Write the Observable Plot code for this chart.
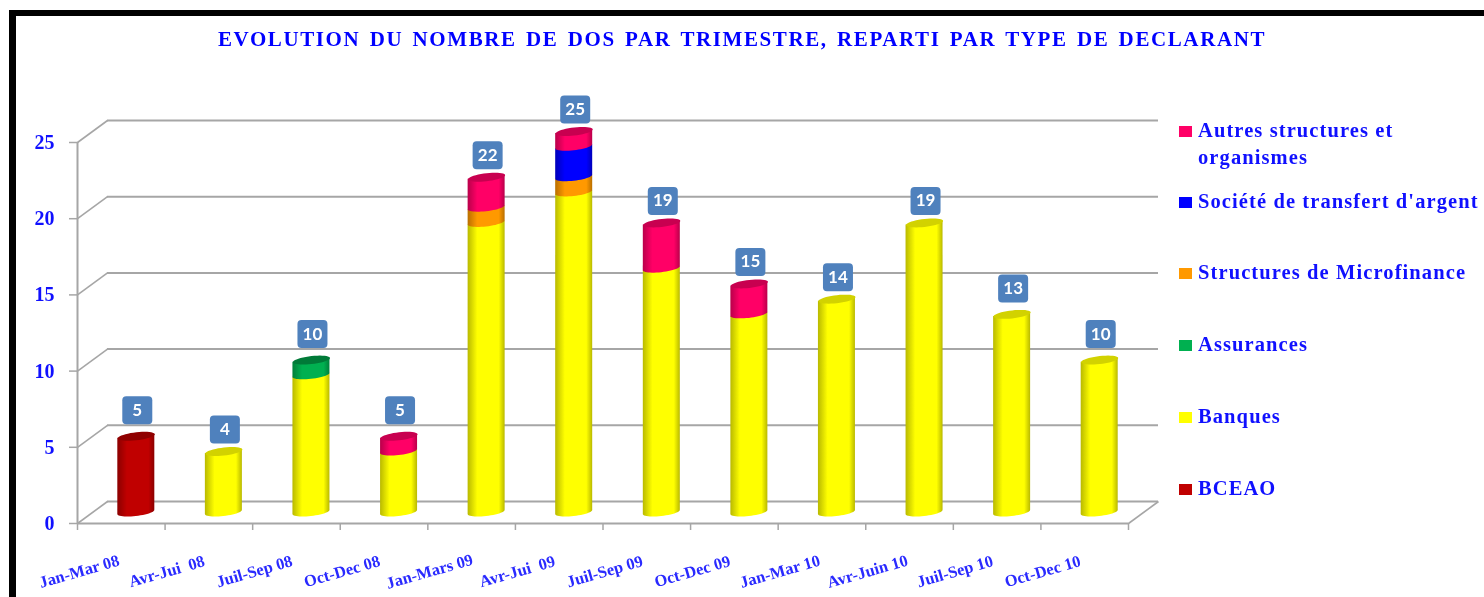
<!DOCTYPE html>
<html lang="fr">
<head>
<meta charset="utf-8">
<script src="https://cdn.jsdelivr.net/npm/d3@7"></script>
<script src="https://cdn.jsdelivr.net/npm/@observablehq/plot@0.6"></script>
<style>
  html, body { margin: 0; padding: 0; background: #fff; width: 1484px; height: 597px; overflow: hidden; }
  #frame { position: absolute; left: 9px; top: 10px; right: 0; bottom: 0; border-left: 7px solid #000; border-top: 6px solid #000; pointer-events: none; }
  #chart { position: absolute; left: 0; top: 0; filter: blur(0.45px); }
  #title { position: absolute; left: 0; width: 1484px; top: 27px; text-align: center; font: bold 21px "Liberation Serif", serif; letter-spacing: 1.6px; word-spacing: 2.5px; color: #0000ff; white-space: nowrap; filter: blur(0.4px); }
  #legend { filter: blur(0.4px); }
  .lg { position: absolute; left: 1179px; }
  .lg i { position: absolute; left: 0; width: 13px; height: 11px; }
  .lg span { position: absolute; left: 19px; top: 0; font: bold 20.5px/26px "Liberation Serif", serif; letter-spacing: 1.1px; color: #1010ff; white-space: nowrap; }
</style>
</head>
<body>
<div id="chart"></div>
<div id="title">EVOLUTION DU NOMBRE DE DOS PAR TRIMESTRE, REPARTI PAR TYPE DE DECLARANT</div>
<div id="legend"></div>
<div id="frame"></div>
<script>
const periods = ["Jan-Mar 08", "Avr-Jui  08", "Juil-Sep 08", "Oct-Dec 08", "Jan-Mars 09", "Avr-Jui  09",
                 "Juil-Sep 09", "Oct-Dec 09", "Jan-Mar 10", "Avr-Juin 10", "Juil-Sep 10", "Oct-Dec 10"];
const bceao        = [5, 0, 0, 0, 0, 0, 0, 0, 0, 0, 0, 0];
const banques      = [0, 4, 9, 4, 19, 21, 16, 13, 14, 19, 13, 10];
const assurances   = [0, 0, 1, 0, 0, 0, 0, 0, 0, 0, 0, 0];
const microfinance = [0, 0, 0, 0, 1, 1, 0, 0, 0, 0, 0, 0];
const societe      = [0, 0, 0, 0, 0, 2, 0, 0, 0, 0, 0, 0];
const autres       = [0, 0, 0, 1, 2, 1, 3, 2, 0, 0, 0, 0];
const totals       = [5, 4, 10, 5, 22, 25, 19, 15, 14, 19, 13, 10];

const seriesNames = ["BCEAO", "Banques", "Assurances", "Structures de Microfinance", "Société de transfert d'argent", "Autres structures et organismes"];
const seriesValues = [bceao, banques, assurances, microfinance, societe, autres];
const seriesColors = ["#c00000", "#ffff00", "#00b050", "#ff9900", "#0000ff", "#ff0066"];
const capColors    = ["#8f0000", "#d2d200", "#007a38", "#c87800", "#0000b8", "#c80050"];
const yTicks = [0, 5, 10, 15, 20, 25];
const raisedLabels = new Set([0, 2, 3, 10, 11]);

// long table, bottom of each stack first so upper segments paint over lower ones
const rows = [];
const tops = [];
periods.forEach((p, i) => {
  let base = 0, last = 0;
  seriesValues.forEach((vals, s) => {
    if (vals[i] > 0) {
      rows.push({slot: i, s, y1: base, y2: base + vals[i]});
      base += vals[i];
      last = s;
    }
  });
  tops.push({slot: i, total: base, s: last});
});
const labelRows = totals.map((total, slot) => ({slot, total}));

// perspective of the 3D box, in pixels and in scale units
const depthX = 30, depthY = 22, barDx = 15, barDy = -11;
const unitX = depthX / (1051 / 12), unitY = depthY / (381 / 25);
const rx = 18.5, ry = 4, shear = 0.11;

function ellipsePoint(t, cx, cy) {
  const dx = rx * Math.cos(t);
  return [cx + dx, cy + ry * Math.sin(t) - shear * dx];
}
const capSymbol = {
  draw(ctx) {
    const n = 40;
    for (let i = 0; i <= n; i++) {
      const [x, y] = ellipsePoint(i / n * 2 * Math.PI, 0, 0);
      i ? ctx.lineTo(x, y) : ctx.moveTo(x, y);
    }
    ctx.closePath();
  }
};
const boxSymbol = {
  draw(ctx) {
    const w = 15, h = 14, c = 4;
    ctx.moveTo(-w + c, -h);
    ctx.arcTo(w, -h, w, h, c);
    ctx.arcTo(w, h, -w, h, c);
    ctx.arcTo(-w, h, -w, -h, c);
    ctx.arcTo(-w, -h, w, -h, c);
    ctx.closePath();
  }
};

// turns each stacked rect into a cylinder segment with a curved lower edge
function cylinderRender(index, scales, values, dims, ctx, next) {
  const g = next(index, scales, values, dims, ctx);
  g.querySelectorAll("rect").forEach(r => {
    const x = +r.getAttribute("x"), y = +r.getAttribute("y");
    const w = +r.getAttribute("width"), h = +r.getAttribute("height");
    const cx = x + w / 2, yb = y + h, s = shear * w / 2;
    let d = `M${x},${y + s}L${x + w},${y - s}`;
    const n = 24;
    for (let i = 0; i <= n; i++) {
      const [px, py] = ellipsePoint(i / n * Math.PI, cx, yb);
      d += `L${px},${py}`;
    }
    d += "Z";
    const p = document.createElementNS("http://www.w3.org/2000/svg", "path");
    for (const a of r.attributes) {
      if (!["x", "y", "width", "height"].includes(a.name)) p.setAttribute(a.name, a.value);
    }
    p.setAttribute("d", d);
    r.replaceWith(p);
  });
  return g;
}

function gradients() {
  const defs = d3.create("svg:defs");
  seriesColors.forEach((c, i) => {
    const dark = d3.color(c).darker(0.9).formatHex();
    const lg = defs.append("linearGradient").attr("id", `cyl${i}`).attr("x1", 0).attr("x2", 1).attr("y1", 0).attr("y2", 0);
    [[0, dark], [0.26, c], [0.84, c], [1, dark]].forEach(([o, col]) =>
      lg.append("stop").attr("offset", o).attr("stop-color", col));
  });
  return defs.node();
}

const grid = "#a6a6a6";
const serif = '"Liberation Serif", serif';

const labelMark = (filter, dy) => [
  Plot.dot(labelRows, {filter, x: d => d.slot + 0.5, y: "total", symbol: boxSymbol, fill: "#4f81bd", dx: barDx + 1, dy}),
  Plot.text(labelRows, {filter, x: d => d.slot + 0.5, y: "total", text: d => String(d.total), fill: "#fff", dx: barDx + 1, dy,
    fontFamily: "Lato, sans-serif", fontSize: 17, fontWeight: 700})
];

const svg = Plot.plot({
  width: 1484,
  height: 597,
  marginLeft: 77,
  marginRight: 356,
  marginTop: 142,
  marginBottom: 74,
  x: {type: "linear", domain: [0, 12]},
  y: {domain: [0, 25]},
  style: {background: "transparent", overflow: "visible"},
  marks: [
    gradients,
    Plot.ruleY(yTicks, {stroke: grid, strokeWidth: 2, dx: depthX, dy: -depthY}),
    Plot.link(yTicks, {x1: () => 0, x2: () => unitX, y1: v => v, y2: v => v + unitY, stroke: grid, strokeWidth: 1.6}),
    Plot.link([0], {x1: () => 12, x2: () => 12 + unitX, y1: v => v, y2: v => v + unitY, stroke: grid, strokeWidth: 1.6}),
    Plot.ruleX([0], {stroke: grid, strokeWidth: 2}),
    Plot.ruleY([0], {stroke: grid, strokeWidth: 2}),
    Plot.axisY({ticks: yTicks, tickSize: 8, tickPadding: 15, label: null, stroke: grid, strokeWidth: 1.5,
      fill: "#1010ff", fontFamily: serif, fontSize: 20, fontWeight: 700}),
    Plot.axisX({ticks: d3.range(13), tickSize: 7, tickFormat: () => "", label: null, stroke: grid, strokeWidth: 1.5}),
    Plot.rect(rows, {
      x1: "slot", x2: d => d.slot + 1, y1: "y1", y2: "y2",
      fill: {value: d => `url(#cyl${d.s})`, scale: null},
      insetLeft: 25.3, insetRight: 25.3, dx: barDx, dy: barDy,
      render: cylinderRender
    }),
    Plot.dot(tops, {x: d => d.slot + 0.5, y: "total", symbol: capSymbol,
      fill: {value: d => capColors[d.s], scale: null}, dx: barDx, dy: barDy}),
    labelMark((d, i) => raisedLabels.has(d.slot), -37),
    labelMark((d, i) => !raisedLabels.has(d.slot), -33),
    Plot.text(periods, {
      x: (d, i) => i + 0.02, frameAnchor: "bottom", dy: 48, text: d => d, rotate: -16,
      textAnchor: "middle", lineAnchor: "middle", fill: "#2a2aff",
      fontFamily: serif, fontSize: 16.5, fontWeight: 700
    })
  ]
});
document.getElementById("chart").append(svg);

// legend, top entry first
const legendEntries = [
  {lines: ["Autres structures et", "organismes"], color: "#ff0066", top: 126},
  {lines: ["Société de transfert d'argent"], color: "#0000ff", top: 197},
  {lines: ["Structures de Microfinance"], color: "#ff9900", top: 268},
  {lines: ["Assurances"], color: "#00b050", top: 340},
  {lines: ["Banques"], color: "#ffff00", top: 412},
  {lines: ["BCEAO"], color: "#c00000", top: 484}
];
const legend = d3.select("#legend");
legendEntries.forEach(e => {
  const row = legend.append("div").attr("class", "lg").style("top", e.top + "px");
  row.append("i").style("background", e.color);
  e.lines.forEach((t, k) => row.append("span").style("top", (-9 + k * 27) + "px").text(t));
});
</script>
</body>
</html>
